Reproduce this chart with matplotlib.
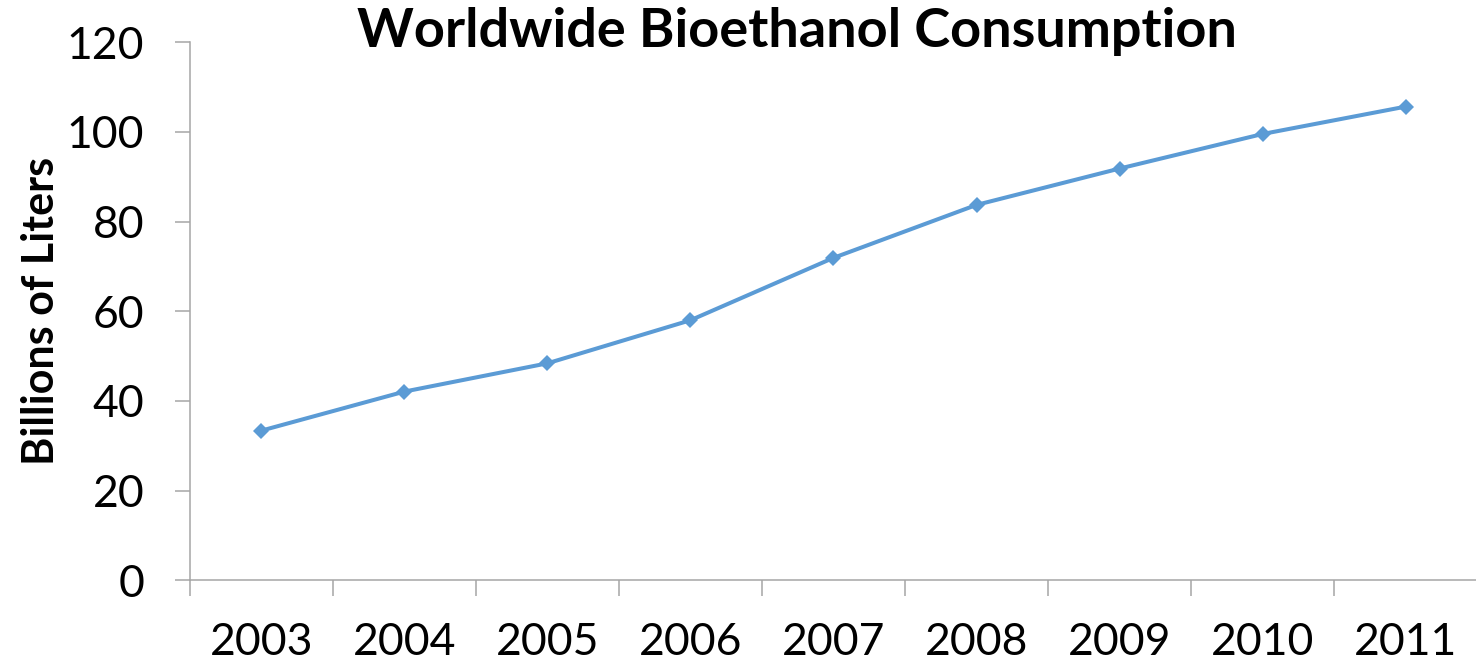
import matplotlib
matplotlib.use("Agg")
import matplotlib.pyplot as plt
import numpy as np

plt.rcParams["font.family"] = ["Lato", "DejaVu Sans"]

years = ["2003", "2004", "2005", "2006", "2007", "2008", "2009", "2010", "2011"]
consumption = [33.4, 42.1, 48.4, 58.0, 71.9, 83.7, 91.8, 99.5, 105.6]
y_ticks = [0, 20, 40, 60, 80, 100, 120]

AXIS_GREY = "#A6A6A6"
LINE_BLUE = "#5B9BD5"

fig = plt.figure(figsize=(14.76, 6.64), dpi=100)
ax = fig.add_axes([0.1287, 0.1258, 0.8720, 0.8109])

x = np.arange(len(years))
ax.plot(x, consumption, color=LINE_BLUE, lw=2.9, marker="D", ms=8.5,
        markeredgewidth=0, solid_joinstyle="round")

ax.set_xlim(-0.5, len(years) - 0.5)
ax.set_ylim(0, 120)

# category labels sit between the boundary tick marks
ax.set_xticks(x)
ax.set_xticklabels(years, fontsize=32)
ax.tick_params(axis="x", which="major", length=0, pad=30)
ax.set_xticks(np.arange(-0.5, len(years)), minor=True)
ax.tick_params(axis="x", which="minor", length=11.5, width=1.1, color=AXIS_GREY,
               direction="out")

ax.set_yticks(y_ticks)
ax.set_yticklabels([str(v) for v in y_ticks], fontsize=32)
ax.tick_params(axis="y", length=11, width=1.1, color=AXIS_GREY, pad=22,
               direction="out")

for side in ("top", "right"):
    ax.spines[side].set_visible(False)
for side in ("left", "bottom"):
    ax.spines[side].set_color(AXIS_GREY)
    ax.spines[side].set_linewidth(1.1)

ax.set_ylabel("Billions of Liters", fontsize=31, fontweight="bold", labelpad=4)
fig.text(0.54, 0.952, "Worldwide Bioethanol Consumption", ha="center", va="center",
         fontsize=39, fontweight="bold")

fig.savefig("out.png", dpi=100)
